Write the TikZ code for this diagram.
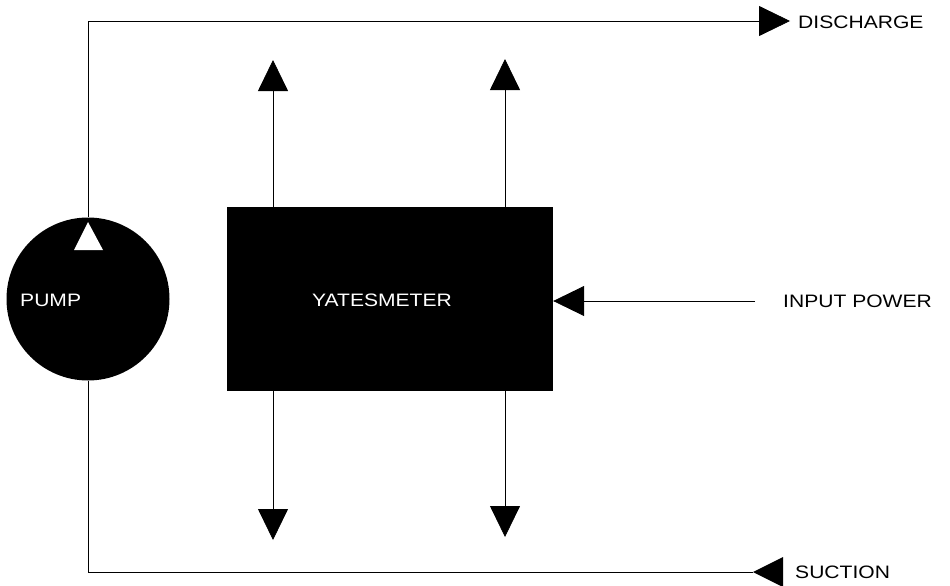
\documentclass[tikz,border=0pt]{standalone}
\usepackage{fontspec}
\setmainfont{Liberation Sans}
\usetikzlibrary{arrows.meta}
\tikzset{
  pipe/.style={line width=0.8pt, black},
  lbl/.style={font=\fontsize{18}{18}\selectfont, xscale=1.17, inner sep=0pt},
  wlbl/.style={lbl, text=white},
  bigtip/.style={-{Triangle[length=31pt,width=30pt]}},
}
\begin{document}
\begin{tikzpicture}[x=1pt,y=-1pt]
\useasboundingbox (0,0) rectangle (950,586);
% main blocks
\node[circle, fill=black, minimum size=163pt, inner sep=0pt] (pump) at (88,299) {};
\node[wlbl, anchor=west] (pumplbl) at (20,300) {PUMP};
\node[rectangle, fill=black, minimum width=326pt, minimum height=184pt, inner sep=0pt] (meter) at (390,299) {};
\node[wlbl] (meterlbl) at (382,300) {YATESMETER};
% labels
\node[lbl, anchor=west] (dis) at (798,22) {DISCHARGE};
\node[lbl, anchor=west] (inp) at (783,301) {INPUT POWER};
\node[lbl, anchor=west] (suc) at (795,572) {SUCTION};
% coordinates
\coordinate (tl) at (88,21);
\coordinate (dtip) at (790,21);
\coordinate (bl) at (88,572);
\coordinate (stip) at (753,572);
\coordinate (pin) at (755,301);
\coordinate (u1) at (273,60);
\coordinate (u2) at (505,59);
\coordinate (d1) at (273,540);
\coordinate (d2) at (505,537);
% discharge pipe
\draw[pipe, {Triangle[length=31pt,width=30pt]}-] (dtip) -- (tl) -- (pump.north);
\fill[white] (88,222) -- (103,250) -- (74,250) -- cycle;
% suction pipe
\draw[pipe] (pump.south) -- (bl) -- (stip);
\fill[black] (stip) -- (783,557) -- (783,587) -- cycle;
% input power
\draw[pipe, bigtip] (pin) -- (meter.east |- pin);
% meter outputs
\draw[pipe, bigtip] (meter.north -| u1) -- (u1);
\draw[pipe, bigtip] (meter.north -| u2) -- (u2);
\draw[pipe, bigtip] (meter.south -| d1) -- (d1);
\draw[pipe, bigtip] (meter.south -| d2) -- (d2);
\end{tikzpicture}
\end{document}
